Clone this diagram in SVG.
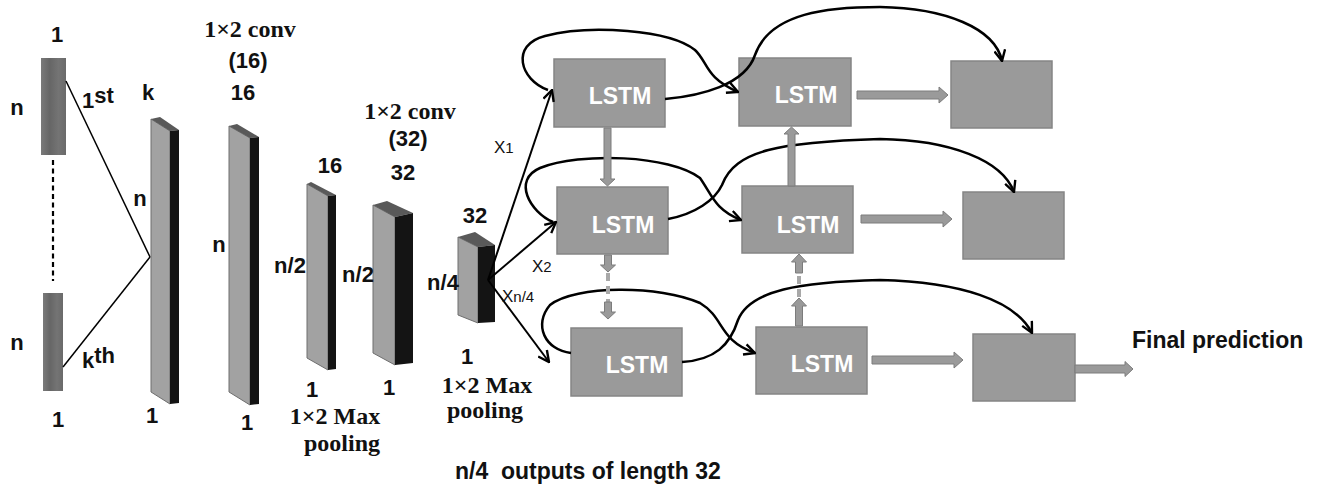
<svg xmlns="http://www.w3.org/2000/svg" width="1318" height="488" viewBox="0 0 1318 488">
  <defs>
    <style>
      .lbl { font-family: "Liberation Sans", Arial, sans-serif; font-weight: bold; font-size: 22px; fill: #111; }
      .ser { font-family: "Liberation Serif", "Times New Roman", serif; font-weight: bold; font-size: 24px; fill: #111; }
      .xl { font-family: "Liberation Sans", Arial, sans-serif; font-size: 17px; fill: #111; }
      .sub { font-size: 15px; }
      .lstm { fill: #9a9a9a; stroke: #858585; stroke-width: 1.5; }
      .lstm-t { font-family: "Liberation Sans", Arial, sans-serif; font-weight: bold; font-size: 23px; fill: #fff; text-anchor: middle; }
      .front { fill: #a2a2a2; stroke: #6e6e6e; stroke-width: 1; }
      .top { fill: #595959; }
      .side { fill: #141414; }
      .barrow { fill: #9a9a9a; stroke: #7c7c7c; stroke-width: 1; }
      .dash { stroke: #a8a8a8; stroke-width: 4; stroke-dasharray: 8 5; fill: none; }
      .curve { fill: none; stroke: #000; stroke-width: 2.5; marker-end: url(#vhead); }
      .ray { fill: none; stroke: #000; stroke-width: 2; marker-end: url(#vhead); }
      .thin { stroke: #000; stroke-width: 1.5; fill: none; }
    </style>
    <marker id="vhead" viewBox="0 0 12 12" refX="11" refY="6" markerWidth="13" markerHeight="13" markerUnits="userSpaceOnUse" orient="auto">
      <path d="M1,1 L11,6 L1,11" fill="none" stroke="#000" stroke-width="2.2"/>
    </marker>
    <linearGradient id="strip" x1="0" y1="0" x2="1" y2="0">
      <stop offset="0" stop-color="#7a7a7a"/>
      <stop offset="0.35" stop-color="#666"/>
      <stop offset="0.7" stop-color="#747474"/>
      <stop offset="1" stop-color="#6a6a6a"/>
    </linearGradient>
  </defs>
  <rect width="1318" height="488" fill="#fff"/>

  <!-- input: first and k-th rows of the n x 1 signal -->
  <g id="input-first">
    <rect x="41" y="58" width="25" height="97" fill="url(#strip)"/>
    <text class="lbl" x="57" y="42" text-anchor="middle">1</text>
    <text class="lbl" x="17" y="115" text-anchor="middle">n</text>
    <text class="lbl" x="82" y="108">1<tspan dy="-5">st</tspan></text>
  </g>
  <g id="input-kth">
    <rect x="43" y="293" width="20" height="98" fill="url(#strip)"/>
    <text class="lbl" x="17" y="350" text-anchor="middle">n</text>
    <text class="lbl" x="82" y="368">k<tspan dy="-5">th</tspan></text>
    <text class="lbl" x="58" y="427" text-anchor="middle">1</text>
  </g>

  <!-- stacked input block (k channels) -->
  <g id="block-k">
    <polygon class="front" points="151,119 170,131 170,404 151,392"/>
    <polygon class="top" points="151,119 160,117 179,130 170,131"/>
    <polygon class="side" points="170,131 179,130 179,403 170,404"/>
    <text class="lbl" x="148" y="100" text-anchor="middle">k</text>
    <text class="lbl" x="140" y="206" text-anchor="middle">n</text>
    <text class="lbl" x="152" y="423" text-anchor="middle">1</text>
  </g>

  <!-- first convolution (16 filters) -->
  <g id="conv16">
    <polygon class="front" points="229,126 250,138 250,405 229,392"/>
    <polygon class="top" points="229,126 237,124 259,137 250,138"/>
    <polygon class="side" points="250,138 259,137 259,404 250,405"/>
    <text class="ser" x="250" y="37" text-anchor="middle">1×2 conv</text>
    <text class="lbl" x="248" y="68" text-anchor="middle">(16)</text>
    <text class="lbl" x="243" y="100" text-anchor="middle">16</text>
    <text class="lbl" x="219" y="252" text-anchor="middle">n</text>
    <text class="lbl" x="247" y="430" text-anchor="middle">1</text>
  </g>

  <!-- first max pooling -->
  <g id="pool16">
    <polygon class="front" points="307,184 328,196 328,370 307,358"/>
    <polygon class="top" points="307,184 311,182 336,195 328,196"/>
    <polygon class="side" points="328,196 336,195 336,369 328,370"/>
    <text class="lbl" x="330" y="173" text-anchor="middle">16</text>
    <text class="lbl" x="290" y="273" text-anchor="middle">n/2</text>
    <text class="lbl" x="312" y="397" text-anchor="middle">1</text>
    <text class="ser" x="335" y="424" text-anchor="middle">1×2 Max</text>
    <text class="ser" x="342" y="451" text-anchor="middle">pooling</text>
  </g>

  <!-- second convolution (32 filters) -->
  <g id="conv32">
    <polygon class="front" points="373,205 395,217 395,365 373,353"/>
    <polygon class="top" points="373,205 387,201 413,213 395,217"/>
    <polygon class="side" points="395,217 413,213 413,363 395,365"/>
    <text class="ser" x="410" y="119" text-anchor="middle">1×2 conv</text>
    <text class="lbl" x="408" y="146" text-anchor="middle">(32)</text>
    <text class="lbl" x="403" y="180" text-anchor="middle">32</text>
    <text class="lbl" x="358" y="282" text-anchor="middle">n/2</text>
    <text class="lbl" x="389" y="395" text-anchor="middle">1</text>
  </g>

  <!-- second max pooling -->
  <g id="pool32">
    <polygon class="front" points="458,237 478,247 478,323 458,315"/>
    <polygon class="top" points="458,237 475,232 495,245 478,247"/>
    <polygon class="side" points="478,247 495,245 495,322 478,323"/>
    <text class="lbl" x="475" y="223" text-anchor="middle">32</text>
    <text class="lbl" x="443" y="290" text-anchor="middle">n/4</text>
    <text class="lbl" x="467" y="364" text-anchor="middle">1</text>
    <text class="ser" x="487" y="393" text-anchor="middle">1×2 Max</text>
    <text class="ser" x="485" y="418" text-anchor="middle">pooling</text>
  </g>

  <!-- LSTM grid -->
  <g id="lstm-1-1"><rect class="lstm" x="554" y="59" width="111" height="68"/><text class="lstm-t" x="620" y="104">LSTM</text></g>
  <g id="lstm-1-2"><rect class="lstm" x="739" y="58" width="112" height="68"/><text class="lstm-t" x="806" y="103">LSTM</text></g>
  <g id="lstm-2-1"><rect class="lstm" x="557" y="187" width="111" height="67"/><text class="lstm-t" x="623" y="233">LSTM</text></g>
  <g id="lstm-2-2"><rect class="lstm" x="742" y="186" width="111" height="67"/><text class="lstm-t" x="808" y="233">LSTM</text></g>
  <g id="lstm-3-1"><rect class="lstm" x="571" y="328" width="111" height="68"/><text class="lstm-t" x="637" y="373">LSTM</text></g>
  <g id="lstm-3-2"><rect class="lstm" x="756" y="327" width="111" height="67"/><text class="lstm-t" x="822" y="372">LSTM</text></g>

  <!-- dense outputs -->
  <g id="out-1"><rect class="lstm" x="951" y="61" width="101" height="67"/></g>
  <g id="out-2"><rect class="lstm" x="963" y="192" width="101" height="67"/></g>
  <g id="out-3"><rect class="lstm" x="973" y="334" width="102" height="67"/></g>

  <g id="caption-final"><text class="lbl" x="1132" y="348" style="font-size:23px">Final prediction</text></g>
  <g id="caption-outputs"><text class="lbl" x="455" y="479" style="font-size:23px" xml:space="preserve">n/4  outputs of length 32</text></g>

  <!-- connectors -->
  <g id="connectors">
    <!-- input rows collapsed into the stacked block -->
    <line class="thin" x1="66" y1="81" x2="150" y2="257"/>
    <line class="thin" x1="63" y1="367" x2="150" y2="257"/>
    <line x1="53" y1="160" x2="53" y2="281" stroke="#000" stroke-width="2.2" stroke-dasharray="5 3.5"/>

    <!-- pooled features fanned out to the LSTM rows -->
    <line class="ray" x1="488" y1="280" x2="552" y2="90"/>
    <line class="ray" x1="488" y1="280" x2="556" y2="222"/>
    <line class="ray" x1="488" y1="280" x2="549" y2="362"/>
    <text class="xl" x="494" y="153">X<tspan class="sub">1</tspan></text>
    <text class="xl" x="532" y="272">X<tspan class="sub">2</tspan></text>
    <text class="xl" x="502" y="302">X<tspan class="sub">n/4</tspan></text>

    <!-- recurrent curves -->
    <path class="curve" d="M548,90 C520,80 510,45 545,36 C590,24 670,30 695,50 C708,62 705,78 738,92"/>
    <path class="curve" d="M665,99 C700,96 745,85 755,55 C770,12 830,7 880,7 C945,8 995,28 1002,61"/>
    <path class="curve" d="M553,222 C530,212 512,180 540,168 C580,152 670,155 700,178 C712,195 715,210 741,220"/>
    <path class="curve" d="M668,219 C695,214 715,200 722,185 C735,150 780,142 880,139 C950,140 1002,160 1014,192"/>
    <path class="curve" d="M571,353 C545,350 533,325 550,305 C575,285 660,285 700,303 C725,318 718,340 755,353"/>
    <path class="curve" d="M682,362 C715,360 730,345 738,320 C750,290 800,282 880,280 C960,282 1015,300 1032,333"/>

    <!-- block arrows between LSTM layers -->
    <polygon class="barrow" points="604,128 611,128 611,179 615,179 607.5,186 600,179 604,179"/>
    <polygon class="barrow" points="604.5,255 611.5,255 611.5,265 615.5,265 608,272 600.5,265 604.5,265"/>
    <line class="dash" x1="608" y1="273" x2="608" y2="302"/>
    <polygon class="barrow" points="604.5,302 611.5,302 611.5,312 615.5,312 608,319 600.5,312 604.5,312"/>

    <polygon class="barrow" points="795.5,326 802.5,326 802.5,306 806.5,306 799,298 791.5,306 795.5,306"/>
    <line class="dash" x1="799" y1="297" x2="799" y2="272"/>
    <polygon class="barrow" points="795.5,273 802.5,273 802.5,262 806.5,262 799,254 791.5,262 795.5,262"/>
    <polygon class="barrow" points="788,186 795,186 795,134 799,134 791.5,127 784,134 788,134"/>

    <!-- block arrows into dense outputs -->
    <polygon class="barrow" points="857,91 939,91 939,87 948,95 939,103 939,99 857,99"/>
    <polygon class="barrow" points="861,215 943,215 943,211 952,219 943,227 943,223 861,223"/>
    <polygon class="barrow" points="872,356 954,356 954,352 963,360 954,368 954,364 872,364"/>
    <polygon class="barrow" points="1075,365 1125,365 1125,361.5 1133,369 1125,376.5 1125,373 1075,373"/>
  </g>
</svg>
